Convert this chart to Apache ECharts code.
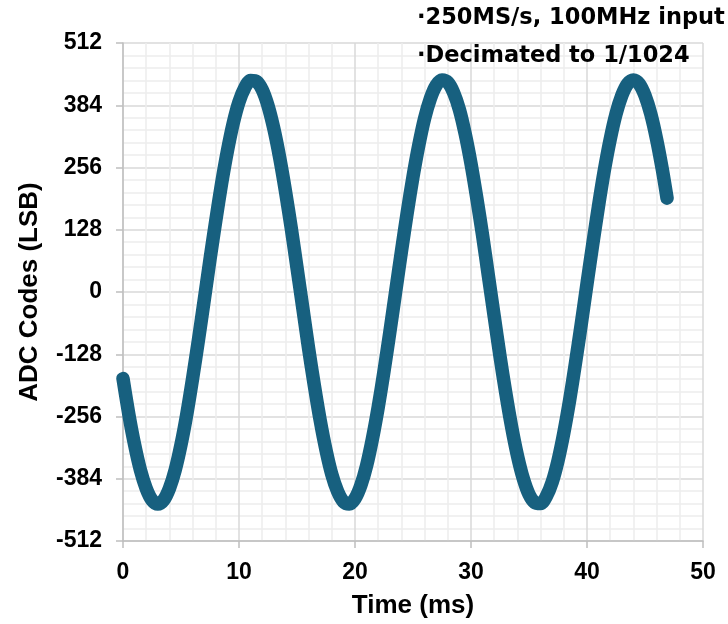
<!DOCTYPE html>
<html>
<head>
<meta charset="utf-8">
<script src="https://cdn.jsdelivr.net/npm/echarts@6/dist/echarts.min.js"></script>
<style>
  html, body { margin: 0; padding: 0; background: #ffffff; }
  #chart { width: 728px; height: 624px; }
</style>
</head>
<body>
<div id="chart"></div>
<script>
var timeMs = [0, 0.5, 1, 1.5, 2, 2.5, 3, 3.5, 4, 4.5, 5, 5.5, 6, 6.5, 7, 7.5, 8, 8.5, 9, 9.5,
  10, 10.5, 11, 11.5, 12, 12.5, 13, 13.5, 14, 14.5, 15, 15.5, 16, 16.5, 17, 17.5, 18, 18.5, 19, 19.5,
  20, 20.5, 21, 21.5, 22, 22.5, 23, 23.5, 24, 24.5, 25, 25.5, 26, 26.5, 27, 27.5, 28, 28.5, 29, 29.5,
  30, 30.5, 31, 31.5, 32, 32.5, 33, 33.5, 34, 34.5, 35, 35.5, 36, 36.5, 37, 37.5, 38, 38.5, 39, 39.5,
  40, 40.5, 41, 41.5, 42, 42.5, 43, 43.5, 44, 44.5, 45, 45.5, 46, 46.5, 46.9];
var adcCodes = [-178, -251, -314, -366, -404, -428, -436, -428, -404, -366, -314, -251, -178, -99, -17, 67, 147, 223, 290, 347,
  391, 420, 435, 433, 416, 383, 336, 277, 208, 132, 50, -33, -116, -193, -264, -325, -375, -410, -431, -436,
  -425, -398, -357, -302, -237, -163, -83, 0, 83, 163, 237, 302, 357, 398, 425, 436, 431, 410, 375, 325,
  264, 193, 116, 33, -50, -132, -208, -277, -336, -383, -416, -433, -435, -420, -391, -347, -290, -223, -147, -67,
  17, 99, 178, 251, 314, 366, 404, 428, 436, 428, 404, 366, 314, 251, 193];
var notes = ['\u00b7250MS/s, 100MHz input', '\u00b7Decimated to 1/1024'];

document.addEventListener('DOMContentLoaded', function () {
  var chart = echarts.init(document.getElementById('chart'), null, { renderer: 'canvas' });

  var points = timeMs.map(function (t, i) { return [t, adcCodes[i]]; });
  var labelFont = { color: '#000000', fontFamily: 'Liberation Sans, Arial, sans-serif', fontWeight: 'bold', fontSize: 23 };
  var nameFont = { color: '#000000', fontFamily: 'Liberation Sans, Arial, sans-serif', fontWeight: 'bold', fontSize: 26 };

  var option = {
    backgroundColor: '#ffffff',
    animation: false,
    grid: { left: 123, right: 25, top: 43, bottom: 81, containLabel: false },
    xAxis: {
      type: 'value',
      min: 0,
      max: 50,
      interval: 10,
      name: 'Time (ms)',
      nameLocation: 'middle',
      nameGap: 52,
      nameTextStyle: nameFont,
      axisLine: { show: true, onZero: false, lineStyle: { color: '#bfbfbf', width: 1.5 } },
      axisTick: { show: true, inside: false, length: 7, lineStyle: { color: '#bfbfbf', width: 1.5 } },
      axisLabel: Object.assign({ margin: 20 }, labelFont),
      splitLine: { show: true, lineStyle: { color: '#d9d9d9', width: 1.5 } },
      minorTick: { show: false, splitNumber: 5 },
      minorSplitLine: { show: true, lineStyle: { color: '#ededed', width: 1.5 } }
    },
    yAxis: {
      type: 'value',
      min: -512,
      max: 512,
      interval: 128,
      name: 'ADC Codes (LSB)',
      nameLocation: 'middle',
      nameGap: 80,
      nameTextStyle: nameFont,
      axisLine: { show: true, onZero: false, lineStyle: { color: '#bfbfbf', width: 1.5 } },
      axisTick: { show: true, inside: false, length: 7, lineStyle: { color: '#bfbfbf', width: 1.5 } },
      axisLabel: Object.assign({ margin: 21 }, labelFont),
      splitLine: { show: true, lineStyle: { color: '#d9d9d9', width: 1.5 } },
      minorTick: { show: false, splitNumber: 5 },
      minorSplitLine: { show: true, lineStyle: { color: '#ededed', width: 1.5 } }
    },
    graphic: notes.map(function (txt, i) {
      return {
        type: 'text',
        left: 417,
        top: 7 + i * 38,
        z: 10,
        style: {
          text: txt,
          fill: '#000000',
          font: 'bold 22.5px "DejaVu Sans", Verdana, sans-serif'
        }
      };
    }),
    series: [
      {
        type: 'line',
        data: points,
        smooth: 0.3,
        showSymbol: false,
        symbol: 'none',
        lineStyle: { color: '#17607f', width: 13.5, cap: 'round', join: 'round' }
      }
    ]
  };

  chart.setOption(option);
  window.addEventListener('resize', function () { chart.resize(); });
});
</script>
</body>
</html>
